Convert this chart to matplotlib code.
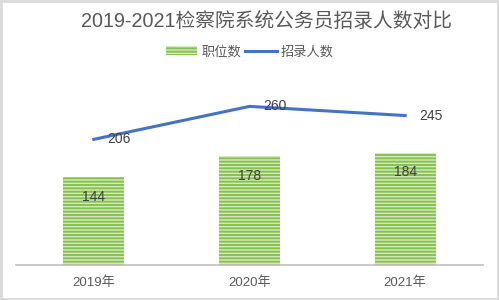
import numpy as np
import matplotlib.pyplot as plt
from matplotlib.patches import Rectangle

plt.rcParams['font.family'] = ['Liberation Sans', 'Noto Sans CJK SC', 'DejaVu Sans']
plt.rcParams['hatch.linewidth'] = 1.4

# data
years = ['2019年', '2020年', '2021年']
positions = [144, 178, 184]      # 职位数
recruits = [206, 260, 245]       # 招录人数

title = '2019-2021检察院系统公务员招录人数对比'
text_gray = '#595959'
bar_face = '#d5eac0'
bar_stripe = '#86c14d'
line_blue = '#4472c4'

fig = plt.figure(figsize=(4.99, 3.0), dpi=100)
ax = fig.add_axes([0.032, 0.1167, 0.936, 0.61])

x = np.arange(len(years))
bars = ax.bar(x, positions, width=0.39, color=bar_face, edgecolor=bar_stripe,
              hatch='-----', linewidth=0, label='职位数', zorder=2)
line, = ax.plot(x, recruits, color=line_blue, linewidth=2.2, label='招录人数', zorder=3)

for xi, v in zip(x, positions):
    ax.annotate(str(v), (xi, v), xytext=(0, -14), textcoords='offset points',
                ha='center', va='center', fontsize=10, color='#404040', zorder=4)
for xi, v in zip(x, recruits):
    ax.annotate(str(v), (xi, v), xytext=(10, 0), textcoords='offset points',
                ha='left', va='center', fontsize=10, color='#404040', zorder=4)

ax.set_xlim(-0.5, 2.5)
ax.set_ylim(0, 300)
ax.set_xticks(x)
ax.set_xticklabels(years, fontsize=9.5, color=text_gray)
ax.set_yticks([])
ax.tick_params(axis='x', length=0, pad=8)
for s in ['top', 'right', 'left']:
    ax.spines[s].set_visible(False)
ax.spines['bottom'].set_color('#bfbfbf')
ax.spines['bottom'].set_linewidth(1.2)

fig.text(0.535, 0.93, title, ha='center', va='center', fontsize=14.2, color=text_gray)

leg = fig.legend(handles=[bars, line], loc='center', bbox_to_anchor=(0.5, 0.827),
                 ncol=2, frameon=False, fontsize=9.5, handlelength=2.4,
                 handletextpad=0.3, columnspacing=0.3)
for t in leg.get_texts():
    t.set_color(text_gray)

# light frame around the image
fig.add_artist(Rectangle((0.003, 0.004), 0.994, 0.992, transform=fig.transFigure,
                         fill=False, edgecolor='#d9d9d9', linewidth=2))

fig.savefig('out.png', dpi=100)
